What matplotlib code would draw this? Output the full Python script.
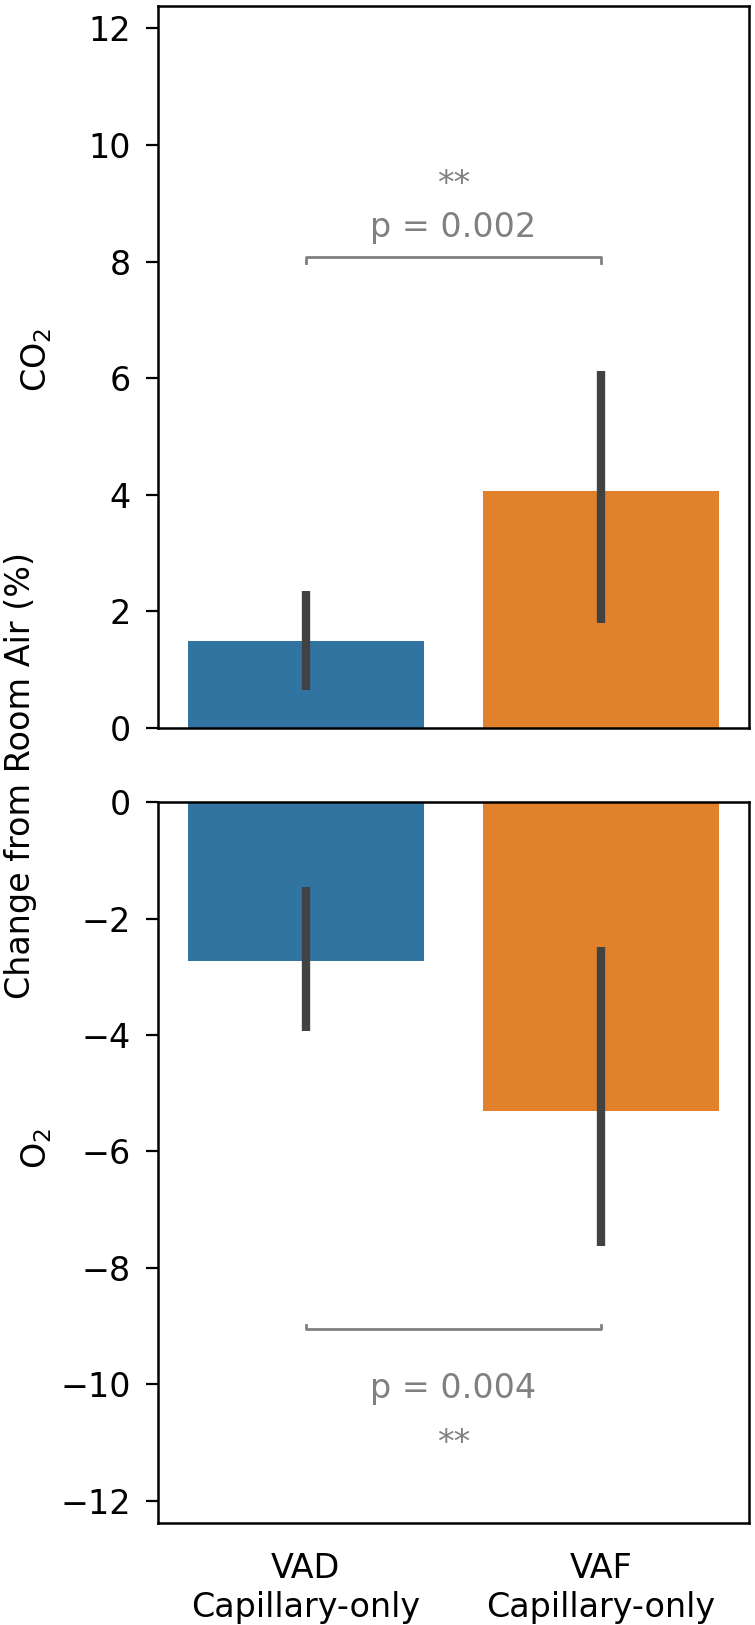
import matplotlib
matplotlib.use("Agg")
import matplotlib.pyplot as plt
import numpy as np

# ---- data ----
categories = ["VAD\nCapillary-only", "VAF\nCapillary-only"]
co2_mean = [1.49, 4.06]
co2_ci_low = [0.65, 1.79]
co2_ci_high = [2.34, 6.12]
o2_mean = [-2.73, -5.31]
o2_ci_low = [-3.93, -7.62]
o2_ci_high = [-1.45, -2.48]
co2_p_text = "p = 0.002"
o2_p_text = "p = 0.004"
sig_text = "**"

bar_colors = ["#3274a1", "#e1812c"]
err_color = "#424242"
annot_color = "gray"

plt.rcParams["font.family"] = ["DejaVu Sans"]
plt.rcParams["font.size"] = 12

fig = plt.figure(figsize=(3.775, 8.125), dpi=200)
ax_top = fig.add_axes([0.2094, 0.5522, 0.7824, 0.4443])
ax_bot = fig.add_axes([0.2094, 0.0626, 0.7824, 0.4437])

x = np.arange(len(categories))


def draw(ax, mean, lo, hi):
    ax.bar(x, mean, width=0.8, color=bar_colors, zorder=2)
    for xi, l, h in zip(x, lo, hi):
        ax.plot([xi, xi], [l, h], color=err_color, lw=3.0,
                solid_capstyle="butt", zorder=3)
    ax.set_xlim(-0.5, 1.5)
    ax.tick_params(axis="y", length=4.3, width=0.8, pad=5.5, labelsize=12)
    ax.tick_params(axis="x", length=0, labelsize=12, pad=10.5)
    for s in ax.spines.values():
        s.set_linewidth(0.9)


draw(ax_top, co2_mean, co2_ci_low, co2_ci_high)
draw(ax_bot, o2_mean, o2_ci_low, o2_ci_high)

ax_top.set_ylim(0, 12.39)
ax_top.set_yticks(np.arange(0, 13, 2))
ax_top.set_xticks(x)
ax_top.set_xticklabels([])

ax_bot.set_ylim(-12.39, 0)
ax_bot.set_yticks(np.arange(-12, 1, 2))
ax_bot.set_xticks(x)
ax_bot.set_xticklabels(categories)

# per-panel labels
ax_top.set_ylabel("CO$_2$", fontsize=12)
ax_top.yaxis.label.set_va("center")
ax_top.yaxis.set_label_coords(-0.205, 0.51)
ax_bot.set_ylabel("O$_2$", fontsize=12)
ax_bot.yaxis.label.set_va("center")
ax_bot.yaxis.set_label_coords(-0.205, 0.52)

fig.text(0.027, 0.523, "Change from Room Air (%)", rotation=90,
         ha="center", va="center", fontsize=12)

# significance brackets
ax_top.plot([0, 0, 1, 1], [7.98, 8.07, 8.07, 7.98], color=annot_color,
            lw=1.0, zorder=4)
ax_top.text(0.5, 8.42, co2_p_text, ha="center", va="baseline",
            color=annot_color, fontsize=12)
ax_top.text(0.5, 9.15, sig_text, ha="center", va="baseline",
            color=annot_color, fontsize=12)

ax_bot.plot([0, 0, 1, 1], [-8.98, -9.05, -9.05, -8.98], color=annot_color,
            lw=1.0, zorder=4)
ax_bot.text(0.5, -10.24, o2_p_text, ha="center", va="baseline",
            color=annot_color, fontsize=12)
ax_bot.text(0.5, -11.19, sig_text, ha="center", va="baseline",
            color=annot_color, fontsize=12)

fig.savefig("out.png", dpi=200)
